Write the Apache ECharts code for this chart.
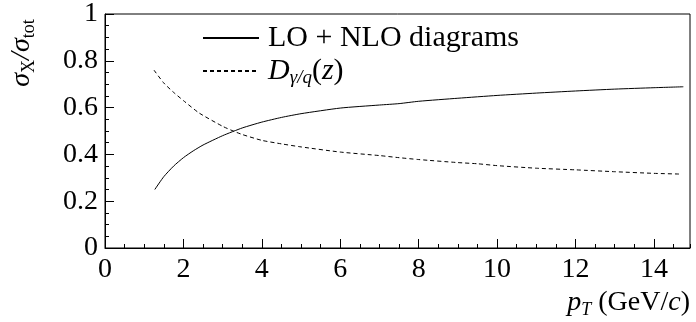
<!DOCTYPE html>
<html>
<head>
<meta charset="utf-8">
<script src="https://cdn.jsdelivr.net/npm/echarts@6/dist/echarts.min.js"></script>
<style>
html, body { margin: 0; padding: 0; background: #fff; }
#chart { width: 696px; height: 322px; }
</style>
</head>
<body>
<div id="chart"></div>
<script>
// LO + NLO diagrams (solid)
var loPt   = [1.27, 1.5, 1.75, 2.0, 2.25, 2.5, 3.0, 3.5, 4.0, 4.5, 5.0, 6.0, 7.0, 7.5, 8.0, 9.0, 10.0, 11.0, 12.0, 13.0, 14.0, 14.75];
var loFrac = [0.25, 0.305, 0.35, 0.386, 0.415, 0.44, 0.48, 0.513, 0.538, 0.558, 0.574, 0.598, 0.611, 0.617, 0.627, 0.64, 0.652, 0.662, 0.671, 0.679, 0.685, 0.689];
// D_{gamma/q}(z) (dashed)
var fragPt   = [1.25, 1.5, 1.75, 2.0, 2.4, 3.0, 3.27, 3.5, 4.0, 4.5, 5.0, 6.0, 7.0, 7.5, 8.0, 9.0, 9.5, 10.0, 11.0, 12.0, 13.0, 14.0, 14.66];
var fragFrac = [0.76, 0.705, 0.665, 0.63, 0.577, 0.52, 0.50, 0.485, 0.46, 0.445, 0.432, 0.41, 0.395, 0.386, 0.378, 0.365, 0.36, 0.352, 0.341, 0.334, 0.326, 0.319, 0.316];

var serif = '"Liberation Serif", "DejaVu Serif", serif';

var zip = function (xs, ys) {
    var out = [];
    for (var i = 0; i < xs.length; i++) out.push([xs[i], ys[i]]);
    return out;
};

var mathRich = {
    t: { fontFamily: serif, fontSize: 28, color: '#000', lineHeight: 32 },
    i: { fontFamily: serif, fontSize: 28, fontStyle: 'italic', color: '#000', lineHeight: 32 },
    sub: { fontFamily: serif, fontSize: 18, fontStyle: 'italic', color: '#000', lineHeight: 18, verticalAlign: 'bottom', padding: [20, 0, 0, 0] },
    subr: { fontFamily: serif, fontSize: 18, color: '#000', lineHeight: 18, verticalAlign: 'bottom', padding: [20, 0, 0, 0] }
};

var legendRich = {
    pad: { width: 4 },
    t: { fontFamily: serif, fontSize: 30, color: '#000', lineHeight: 32 },
    i: { fontFamily: serif, fontSize: 30, fontStyle: 'italic', color: '#000', lineHeight: 32 },
    sub: { fontFamily: serif, fontSize: 19, fontStyle: 'italic', color: '#000', lineHeight: 19, verticalAlign: 'bottom', padding: [20, 0, 0, 0] }
};

var chart = echarts.init(document.getElementById('chart'));

var option = {
    animation: false,
    backgroundColor: '#fff',
    grid: {
        left: 105, right: 6, top: 11, bottom: 74,
        show: true, borderColor: '#000', borderWidth: 1,
        backgroundColor: 'transparent'
    },
    legend: {
        orient: 'vertical',
        left: 197,
        top: 18,
        itemWidth: 56,
        itemHeight: 14,
        itemGap: -5,
        data: ['lo', 'frag'],
        itemStyle: { opacity: 0 },
        formatter: function (name) {
            if (name === 'lo') return '{pad|}{t|LO + NLO diagrams}';
            return '{pad|}{i|D}{sub|γ/q}{t|(}{i|z}{t|)}';
        },
        textStyle: { rich: legendRich }
    },
    xAxis: [{
        type: 'value', min: 0, max: 14.92, interval: 2,
        axisLine: { lineStyle: { color: '#000', width: 1 } },
        axisTick: { inside: true, length: 9, lineStyle: { color: '#000' } },
        axisLabel: {
            color: '#000', fontFamily: serif, fontSize: 28, margin: 8,
            showMaxLabel: false,
            formatter: function (v) { return v % 2 === 0 ? String(v) : ''; }
        },
        splitLine: { show: false }
    }, {
        type: 'value', min: 0, max: 14.92, interval: 0.5, position: 'bottom',
        axisLine: { show: false },
        axisTick: { inside: true, length: 4, lineStyle: { color: '#000' } },
        axisLabel: { show: false },
        splitLine: { show: false }
    }],
    yAxis: [{
        type: 'value', min: 0, max: 1, interval: 0.2,
        axisLine: { lineStyle: { color: '#000', width: 1 } },
        axisTick: { inside: true, length: 9, lineStyle: { color: '#000' } },
        axisLabel: { color: '#000', fontFamily: serif, fontSize: 28, margin: 7 },
        splitLine: { show: false }
    }, {
        type: 'value', min: 0, max: 1, interval: 0.05, position: 'left',
        axisLine: { show: false },
        axisTick: { inside: true, length: 4, lineStyle: { color: '#000' } },
        axisLabel: { show: false },
        splitLine: { show: false }
    }],
    series: [{
        name: 'lo',
        type: 'line',
        symbol: 'none',
        smooth: 0.2,
        lineStyle: { color: '#000', width: 1 },
        itemStyle: { color: '#000' },
        data: zip(loPt, loFrac)
    }, {
        name: 'frag',
        type: 'line',
        symbol: 'none',
        smooth: 0.2,
        lineStyle: { color: '#000', width: 1, type: [4, 3] },
        itemStyle: { color: '#000' },
        data: zip(fragPt, fragFrac)
    }],
    graphic: [{
        type: 'text',
        right: 6,
        top: 281,
        style: {
            text: '{i|p}{sub|T}{t| (GeV/}{i|c}{t|)}',
            rich: mathRich
        }
    }, {
        type: 'text',
        x: 22,
        y: 53,
        rotation: Math.PI / 2,
        style: {
            text: '{i|σ}{subr|X}{i|/σ}{subr|tot}',
            rich: mathRich,
            align: 'center',
            verticalAlign: 'middle'
        }
    }]
};

chart.setOption(option);
</script>
</body>
</html>
